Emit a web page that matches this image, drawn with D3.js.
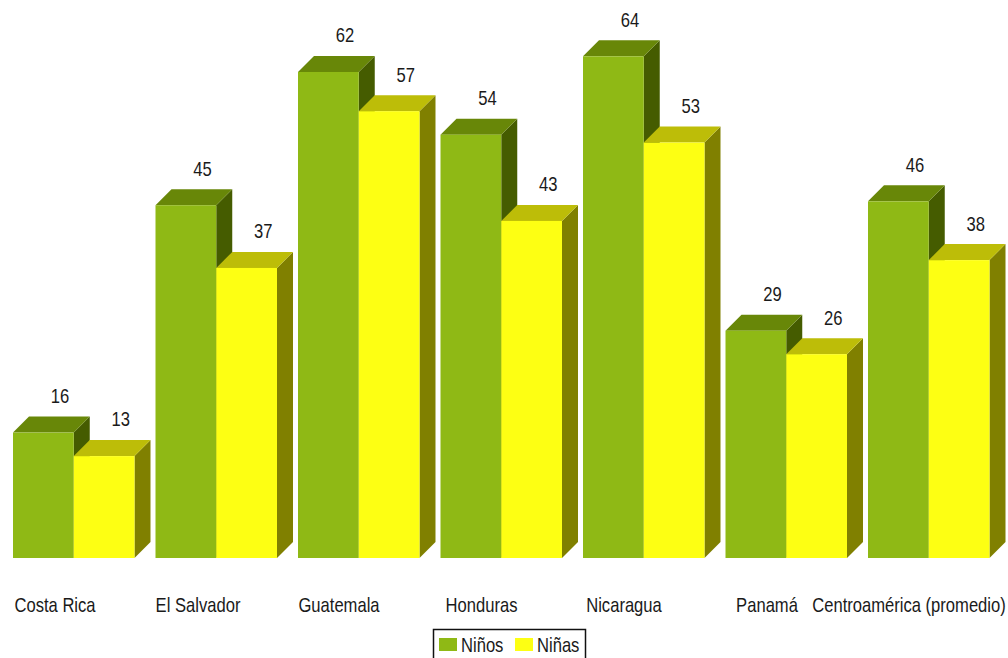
<!DOCTYPE html>
<html><head><meta charset="utf-8">
<script src="https://cdn.jsdelivr.net/npm/d3@7"></script>
<style>html,body{margin:0;padding:0;background:#fff;overflow:hidden}svg{display:block}
text{font-family:"Liberation Sans",sans-serif;font-size:20px;fill:#1a1a1a}</style>
</head><body><div id="c"></div>
<script>
const categories=["Costa Rica","El Salvador","Guatemala","Honduras","Nicaragua","Panamá","Centroamérica (promedio)"];
const ninos=[16,45,62,54,64,29,45.5];
const ninas=[13,37,57,43,53,26,38];
const labelCenters=[55,198,339,481.5,624,767,909];
const seriesNames=["Niños","Niñas"];
const W=1008,H=658,depth=16,squeeze=0.83;
const svg=d3.select("#c").append("svg").attr("width",W).attr("height",H);
const x0=d3.scaleBand().domain(categories).range([13,989.5]).paddingInner(0.1474);
const x1=d3.scaleBand().domain(seriesNames).range([0,x0.bandwidth()]);
const y=d3.scaleLinear().domain([0,64]).range([558,56.3]);
const pal=[{front:"#8FB915",top:"#688708",side:"#455C00"},{front:"#FDFF13",top:"#BDBD08",side:"#808000"}];
const poly=(pts)=>pts.map(p=>p.join(",")).join(" ");
const label=(sel,px,py,txt,anchor)=>sel.append("text").attr("transform",`translate(${px},${py}) scale(${squeeze},1)`).attr("text-anchor",anchor||"middle").text(txt);
categories.forEach((c,i)=>{
  const g=svg.append("g");
  [ninos[i],ninas[i]].forEach((v,s)=>{
    const xa=x0(c)+x1(seriesNames[s]),w=x1.bandwidth(),t=y(v),b=y(0),col=pal[s];
    g.append("polygon").attr("fill",col.side).attr("points",poly([[xa+w,t],[xa+w+depth,t-depth],[xa+w+depth,b-depth],[xa+w,b]]));
    g.append("polygon").attr("fill",col.top).attr("points",poly([[xa,t],[xa+depth,t-depth],[xa+w+depth,t-depth],[xa+w,t]]));
    g.append("rect").attr("x",xa).attr("y",t).attr("width",w).attr("height",b-t).attr("fill",col.front);
    label(g,xa+w/2+depth+0.6,t-depth-13.6,Math.round(v));
  });
  label(svg,labelCenters[i],612,c);
});
const lg=svg.append("g");
lg.append("rect").attr("x",433.5).attr("y",629.5).attr("width",152).attr("height",40).attr("fill","#fff").attr("stroke","#111").attr("stroke-width",1.5);
seriesNames.forEach((n,s)=>{
  const lx=[439,515][s];
  lg.append("rect").attr("x",lx).attr("y",638).attr("width",18).attr("height",13).attr("fill",pal[s].front);
  label(lg,lx+22,652,n,"start");
});
</script></body></html>
